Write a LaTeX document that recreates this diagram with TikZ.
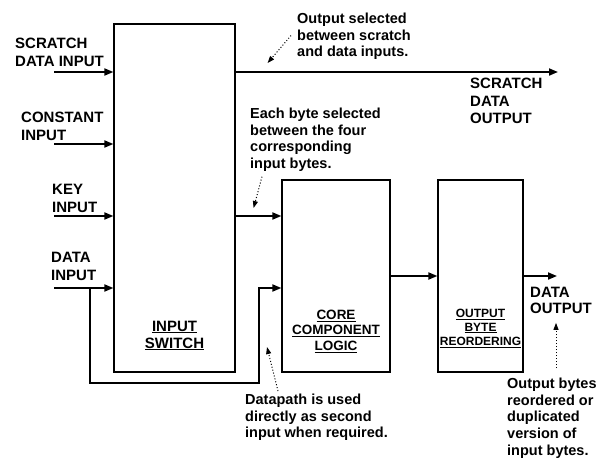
\documentclass[tikz,border=0pt]{standalone}
\usepackage{fontspec}
\setmainfont{Liberation Sans}
\usetikzlibrary{calc, arrows.meta, positioning}

\begin{document}
\begin{tikzpicture}[
    x=1pt, y=-1pt,
    every node/.style={inner sep=0pt, font=\bfseries},
    block/.style={draw, line width=1.2pt},
    wire/.style={line width=1.8pt},
    arrow/.style={wire, -{Triangle[length=9pt, width=7pt]}},
    note_arrow/.style={line width=1pt, dash pattern=on 1pt off 2pt, -{Triangle[length=7pt, width=5pt]}},
    sig_label/.style={align=left, anchor=north west, font=\bfseries\fontsize{15}{17.5}\selectfont},
    note/.style={align=left, anchor=north west, font=\bfseries\fontsize{14.5}{16.6}\selectfont},
    block_label/.style={align=center, anchor=north},
    ]
    \useasboundingbox (0,0) rectangle (607,459);

    % --- Blocks ---
    \node (switch) [block, minimum width=121pt, minimum height=348pt] at (174.5,198) {};
    \node (core) [block, minimum width=108pt, minimum height=192pt] at (336,276) {};
    \node (reorder) [block, minimum width=85pt, minimum height=192pt] at (480.5,276) {};

    \node (switch_label) [block_label, font=\bfseries\fontsize{15}{17}\selectfont]
        at ($(switch.south)+(0,-52)$) {\underline{INPUT}\\\underline{SWITCH}};
    \node (core_label) [block_label, font=\bfseries\fontsize{13.5}{15.7}\selectfont]
        at ($(core.south)+(0,-63)$) {\underline{CORE}\\\underline{COMPONENT}\\\underline{LOGIC}};
    \node (reorder_label) [block_label, font=\bfseries\fontsize{12}{14}\selectfont]
        at ($(reorder.south)+(0,-64)$) {\underline{OUTPUT}\\\underline{BYTE}\\\underline{REORDERING}};

    % --- Signal ends ---
    \coordinate (in_scratch) at (54,72);
    \coordinate (in_const) at (54,144);
    \coordinate (in_key) at (54,216);
    \coordinate (in_data) at (54,288);
    \coordinate (out_scratch) at (558,72);
    \coordinate (out_data) at (557,276);
    \coordinate (bypass_split) at (90,288);
    \coordinate (bypass_turn) at (259,383);

    % --- Signal labels ---
    \node (lbl_scratch_in) [sig_label] at (15,38) {SCRATCH\\DATA INPUT};
    \node (lbl_const_in) [sig_label] at (21,112) {CONSTANT\\INPUT};
    \node (lbl_key_in) [sig_label] at (52,184) {KEY\\INPUT};
    \node (lbl_data_in) [sig_label] at (51,252) {DATA\\INPUT};
    \node (lbl_scratch_out) [sig_label] at (470,78) {SCRATCH\\DATA\\OUTPUT};
    \node (lbl_data_out) [sig_label, font=\bfseries\fontsize{15}{16}\selectfont] at (530,287) {DATA\\OUTPUT};

    % --- Notes ---
    \node (note_scratch) [note] at (297,13) {Output selected\\between scratch\\and data inputs.};
    \node (note_byte) [note] at (250,108) {Each byte selected\\between the four\\corresponding\\input bytes.};
    \node (note_path) [note] at (245,394) {Datapath is used\\directly as second\\input when required.};
    \node (note_reorder) [note] at (507,378) {Output bytes\\reordered or\\duplicated\\version of\\input bytes.};

    % --- Arrows ---
    \draw[arrow] (in_scratch) -- (in_scratch -| switch.west);
    \draw[arrow] (in_const) -- (in_const -| switch.west);
    \draw[arrow] (in_key) -- (in_key -| switch.west);
    \draw[arrow] (in_data) -- (in_data -| switch.west);
    \draw[arrow] (switch.east |- in_scratch) -- (out_scratch);
    \draw[arrow] (switch.east |- in_key) -- (core.west |- in_key);
    \draw[arrow] (bypass_split) |- (bypass_turn) |- (core.west |- in_data);
    \draw[arrow] (core.east) -- (reorder.west);
    \draw[arrow] (reorder.east) -- (out_data);

    % --- Note pointers ---
    \draw[note_arrow] ($(note_scratch.west)+(-6,-1)$) -- ($(switch.east |- in_scratch)+(32,-9)$);
    \draw[note_arrow] ($(note_byte.south west)+(12,5)$) -- ($(switch.east |- in_key)+(18,-8)$);
    \draw[note_arrow] ($(note_path.north west)+(33,-3)$) -- ($(bypass_turn)+(8,-36)$);
    \draw[note_arrow] ($(note_reorder.north west)+(49,-10)$) -- ($(lbl_data_out.south west)+(26,9)$);

\end{tikzpicture}
\end{document}
